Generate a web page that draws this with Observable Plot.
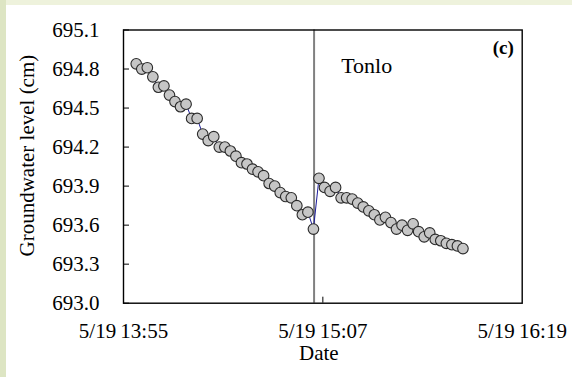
<!DOCTYPE html>
<html>
<head>
<meta charset="utf-8">
<script src="https://cdn.jsdelivr.net/npm/d3@7"></script>
<script src="https://cdn.jsdelivr.net/npm/@observablehq/plot@0.6"></script>
<style>
  html, body { margin: 0; padding: 0; }
  body { width: 572px; height: 377px; background: #dde5c3; position: relative; overflow: hidden; }
  #topstrip { position: absolute; left: 6px; top: 0; width: 566px; height: 5px; background: #eef2dc; }
  #paper { position: absolute; left: 6px; top: 5px; width: 566px; height: 372px; background: #ffffff; }
  #chart { position: absolute; left: 0; top: 0; }
</style>
</head>
<body>
<div id="topstrip"></div>
<div id="paper"></div>
<div id="chart"></div>
<script>
const day = "2000-05-19";
const times = [
  "13:59:36","14:01:36","14:03:36","14:05:36","14:07:36","14:09:36","14:11:36","14:13:36","14:15:36","14:17:36",
  "14:19:36","14:21:36","14:23:36","14:25:36","14:27:36","14:29:36","14:31:36","14:33:36","14:35:36","14:37:36",
  "14:39:36","14:41:36","14:43:36","14:45:36","14:47:36","14:49:36","14:51:36","14:53:36","14:55:36","14:57:36",
  "14:59:36","15:01:36","15:03:36","15:05:36","15:07:36","15:09:36","15:11:36","15:13:36","15:15:36","15:17:36",
  "15:19:36","15:21:36","15:23:36","15:25:36","15:27:36","15:29:36","15:31:36","15:33:36","15:35:36","15:37:36",
  "15:39:36","15:41:36","15:43:36","15:45:36","15:47:36","15:49:36","15:51:36","15:53:36","15:55:36","15:57:36"
];
const levels = [
  694.84, 694.80, 694.81, 694.74, 694.66, 694.67, 694.60, 694.55, 694.51, 694.53,
  694.42, 694.42, 694.30, 694.25, 694.28, 694.20, 694.20, 694.17, 694.13, 694.08,
  694.07, 694.03, 694.01, 693.98, 693.92, 693.90, 693.85, 693.82, 693.81, 693.75,
  693.68, 693.70, 693.57, 693.96, 693.89, 693.86, 693.89, 693.81, 693.81, 693.80,
  693.77, 693.74, 693.71, 693.68, 693.64, 693.66, 693.62, 693.57, 693.60, 693.56,
  693.61, 693.55, 693.51, 693.54, 693.49, 693.48, 693.46, 693.45, 693.44, 693.42
];
const xTickTimes = ["13:55", "15:07", "16:19"];
const innerXTick = ["15:07"];
const yTicks = [693.0, 693.3, 693.6, 693.9, 694.2, 694.5, 694.8, 695.1];
const markerTime = "15:03:50";
const siteLabel = "Tonlo";
const panelLabel = "(c)";
const xLabel = "Date";
const yLabel = "Groundwater level (cm)";

const toDate = t => new Date(`${day}T${t.length === 5 ? t + ":00" : t}Z`);
const data = times.map((t, i) => ({time: toDate(t), level: levels[i]}));
const fmt = d3.utcFormat("%H:%M");

const chart = Plot.plot({
  width: 572,
  height: 377,
  marginLeft: 123,
  marginRight: 50.3,
  marginTop: 29.5,
  marginBottom: 74.3,
  style: {background: "transparent", fontFamily: "'Liberation Serif', 'Times New Roman', serif", fontSize: "21px", color: "black"},
  x: {type: "utc", domain: [toDate(xTickTimes[0]), toDate(xTickTimes[2])], label: null},
  y: {domain: [693.0, 695.1], label: null},
  marks: [
    Plot.axisY({ticks: yTicks, tickSize: -6, tickFormat: () => "", strokeWidth: 1, label: null}),
    Plot.axisY({ticks: yTicks, tickSize: 0, tickPadding: 24, tickFormat: d => d.toFixed(1), fontSize: 21, label: null}),
    Plot.axisX({ticks: innerXTick.map(toDate), tickSize: -6, tickFormat: () => "", strokeWidth: 1, label: null}),
    Plot.axisX({ticks: xTickTimes.map(toDate), tickSize: 0, tickPadding: 20, tickFormat: d => "5/19\u2009" + fmt(d), fontSize: 21, label: null}),
    Plot.ruleX([toDate(markerTime)], {stroke: "#808080", strokeWidth: 2}),
    Plot.line(data, {x: "time", y: "level", stroke: "#1c1c9c", strokeWidth: 1}),
    Plot.dot(data, {x: "time", y: "level", r: 5.3, fill: "#c6c6c6", stroke: "#2a2a2a", strokeWidth: 1.1}),
    Plot.frame({stroke: "black", strokeWidth: 1.4}),
    Plot.text([siteLabel], {text: d => d, frameAnchor: "top-left", dx: 217.7, dy: 43.2, textAnchor: "start", lineAnchor: "bottom", fontSize: 22}),
    Plot.text([panelLabel], {text: d => d, frameAnchor: "top-right", dx: -8.4, dy: 23.5, textAnchor: "end", lineAnchor: "bottom", fontSize: 19, fontWeight: "bold"}),
    Plot.text([xLabel], {text: d => d, frameAnchor: "bottom", dx: -4, dy: 57, textAnchor: "middle", lineAnchor: "bottom", fontSize: 21}),
    Plot.text([yLabel], {text: d => d, frameAnchor: "left", dx: -90, dy: -11, rotate: -90, textAnchor: "middle", lineAnchor: "bottom", fontSize: 21})
  ]
});
document.getElementById("chart").appendChild(chart);
</script>
</body>
</html>
